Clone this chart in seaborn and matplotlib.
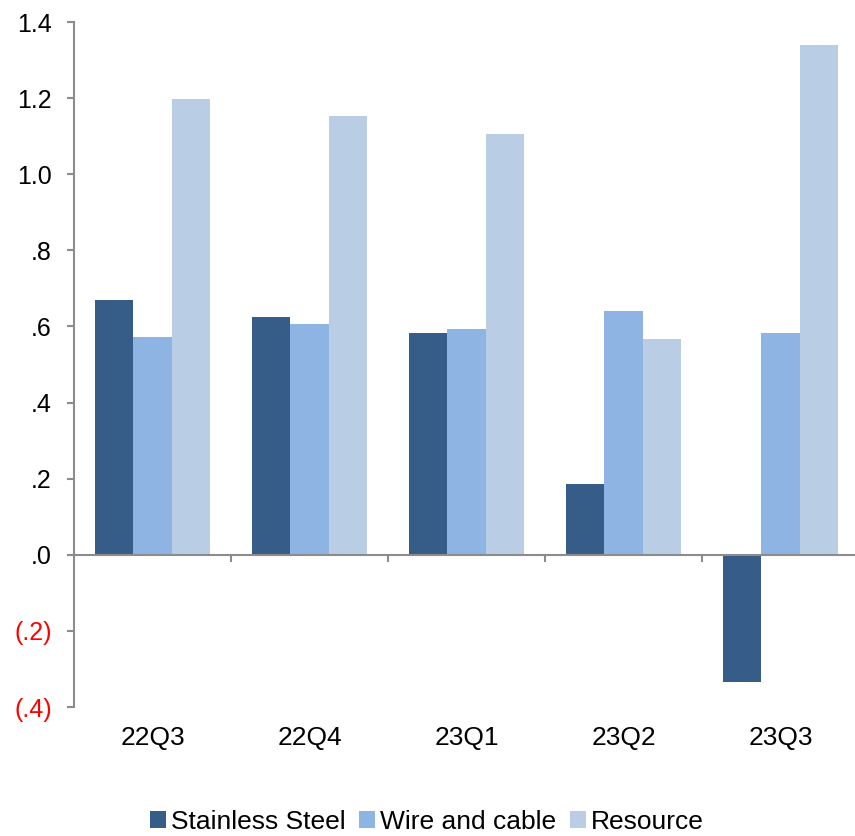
import matplotlib
matplotlib.use("Agg")
import matplotlib.pyplot as plt
from matplotlib.ticker import FuncFormatter, MultipleLocator
import seaborn as sns
import pandas as pd

quarters = ["22Q3", "22Q4", "23Q1", "23Q2", "23Q3"]
stainless_steel = [0.67, 0.625, 0.583, 0.186, -0.333]
wire_and_cable = [0.572, 0.606, 0.593, 0.641, 0.583]
resource = [1.197, 1.153, 1.105, 0.567, 1.339]
series_names = ["Stainless Steel", "Wire and cable", "Resource"]
colors = ["#365C88", "#8EB4E3", "#B9CDE5"]

df = pd.DataFrame({
    "quarter": quarters * 3,
    "value": stainless_steel + wire_and_cable + resource,
    "series": [s for s in series_names for _ in quarters],
})

sns.set_theme(style="white")
plt.rcParams["font.family"] = ["Liberation Sans", "DejaVu Sans"]
plt.rcParams["text.color"] = "black"

fig = plt.figure(figsize=(8.55, 8.36), dpi=100)
ax = fig.add_axes([74 / 855, (836 - 707) / 836, (859 - 74) / 855, (707 - 22) / 836])

sns.barplot(data=df, x="quarter", y="value", hue="series", order=quarters,
            hue_order=series_names, palette=colors, saturation=1, width=0.73,
            linewidth=0, errorbar=None, ax=ax)

ax.set_ylim(-0.4, 1.4)
ax.set_xlim(-0.5, len(quarters) - 0.5)
ax.yaxis.set_major_locator(MultipleLocator(0.2))


def fmt(v, _pos):
    s = f"{abs(v):.1f}"
    if s.startswith("0"):
        s = s[1:]
    return f"({s})" if v < -1e-9 else s


ax.yaxis.set_major_formatter(FuncFormatter(fmt))
ax.set_xlabel("")
ax.set_ylabel("")

spine_color = "#8C8C8C"
for side in ["top", "right", "bottom"]:
    ax.spines[side].set_visible(False)
ax.spines["left"].set_color(spine_color)
ax.spines["left"].set_linewidth(1.5)

ax.tick_params(axis="y", direction="out", length=5, width=1.5, color=spine_color,
               labelsize=18, pad=11, left=True, labelcolor="black")
ax.tick_params(axis="x", length=0, labelsize=19, pad=14, labelcolor="black")

# zero line with separators between quarter groups
ax.axhline(0, color=spine_color, linewidth=1.5, zorder=3)
ax.vlines([i + 0.5 for i in range(len(quarters) - 1)], 0, -0.018,
          color=spine_color, linewidth=1.5, zorder=3)

fig.canvas.draw()
for lbl, val in zip(ax.get_yticklabels(), ax.get_yticks()):
    if val < -1e-9:
        lbl.set_color("red")

leg = ax.legend(loc="center", bbox_to_anchor=(427 / 855, 1 - 822 / 836),
                bbox_transform=fig.transFigure, ncol=3, frameon=False,
                fontsize=19, handlelength=0.6, handleheight=0.6,
                handletextpad=0.2, columnspacing=0.5, borderaxespad=0)
for t in leg.get_texts():
    t.set_color("black")

fig.savefig("out.png", dpi=100, facecolor="white")
